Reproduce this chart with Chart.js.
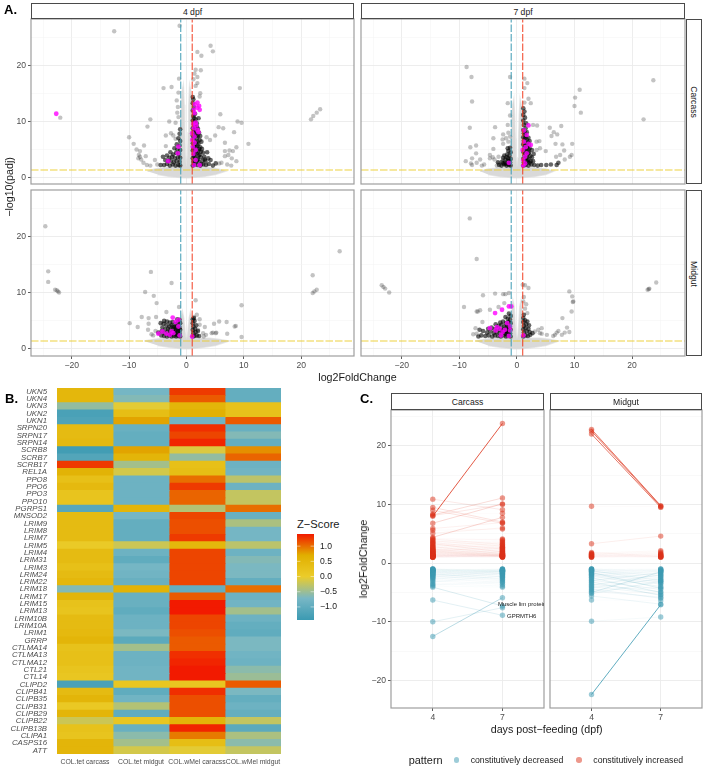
<!DOCTYPE html>
<html>
<head>
<meta charset="utf-8">
<title>Volcano plots, heatmap and fold change</title>
<script src="https://cdn.jsdelivr.net/npm/chart.js@4"></script>
<style>
  html, body { margin: 0; padding: 0; background: #fff; }
  #page { position: relative; width: 703px; height: 767px; overflow: hidden; font-family: "Liberation Sans", sans-serif; }
  #page canvas { position: absolute; }
  .txt { position: absolute; white-space: nowrap; transform-origin: center; }
  .strip { position: absolute; box-sizing: border-box; border: 1px solid #4a4a4a; background: #fff; }
  .dot { position: absolute; width: 5.4px; height: 5.4px; border-radius: 50%; }
</style>
</head>
<body>
<div id="page"></div>
<script>
// ---------- panel A: points read as [log2FoldChange, -log10(padj)] ----------
const grey4Carcass = [[-12.6,26.2],[-1.2,27.2],[4.2,23.6],[4.6,22.6],[1.9,22.5],[2.6,21.8],[1.6,19.3],[2.5,19.2],[1.4,18.6],[1.9,18],[-1.3,17.7],[1.9,16.9],[1.2,17.6],[1.6,16.4],[-4,16],[-2.6,16.2],[9.3,16],[-1.4,15.2],[2.4,15.1],[2.3,14.5],[-1.7,13.8],[-1.5,12.6],[-1.6,11.6],[5.9,11.3],[-22,10.7],[21.7,10.4],[22.1,11],[22.7,11.6],[23.3,12.2],[-6.3,10.4],[-6.8,9.1],[-3,10],[-1.9,9.8],[-1.4,10.8],[5.6,9],[6.4,8.8],[8.9,10],[9.6,9.8],[8.3,8.1],[5,7.5],[3.5,7.2],[4.1,6.7],[-10,7.2],[-3.6,7.5],[-2.7,7.9],[-2.3,7.5],[-1.9,6.9],[-9.2,6],[-7.4,5.7],[-8.7,5],[-8.1,4.7],[-8.3,4],[-8.1,3.7],[-8.4,3.4],[-7.1,3.8],[-7.9,3.2],[-7.5,2.6],[-6.9,2.2],[-6.3,2.1],[-5.5,3.1],[-5.1,2.3],[-3.6,5.6],[6.7,6.2],[10.8,6],[8.7,5.4],[8.1,4.7],[6.7,4.7],[7.5,4.8],[6.7,3.8],[7.3,4],[7.9,3.4],[8.7,2.9],[6.1,2.6],[7.1,2.3],[7.8,2.1],[5.7,2.5]];
const dark4Carcass = [[1.1,2.1],[1.4,2.3],[1.9,2.2],[2.4,2.1],[2.9,2.3],[3.4,2.2],[3.9,2.4],[4.6,2.1],[5.1,2.5],[1.2,2.8],[1.7,2.9],[2.2,2.7],[2.8,3],[3.3,2.9],[4.2,3.1],[1.1,3.4],[1.5,3.6],[2,3.3],[2.5,3.6],[3.1,3.7],[3.8,3.4],[1.3,4.1],[1.8,4.3],[2.3,4],[2.9,4.4],[3.6,4.5],[1.1,4.8],[1.6,5],[2.1,4.7],[2.7,5.1],[1.3,5.5],[1.9,5.7],[2.4,5.4],[1.1,6.1],[1.6,6.3],[2.1,6],[2.6,6.4],[1.2,6.8],[1.8,7],[2.3,6.7],[1.1,7.5],[1.5,7.7],[2,7.4],[1.2,8.1],[1.7,8.3],[2.2,8],[1.1,8.8],[1.5,9],[2,8.7],[1.3,9.5],[1.8,9.7],[1.1,10.2],[1.6,10.4],[2.1,10.6],[1.2,11],[1.5,11.4],[1.1,12],[1.3,12.6],[1.1,13.3],[1.2,14],[1.1,14.4],[1.4,2.6],[1.9,3.1],[1.3,3.8],[2.1,3.9],[1.6,4.5],[1.2,5.2],[1.7,5.4],[2.2,5.1],[1.4,5.9],[1.9,6.4],[1.3,7.2],[1.8,7.6],[1.4,8.5],[1.8,9.1],[1.4,10],[1.3,10.7],[2.4,7.4],[2.5,4.6],[3.2,3.2],[2.6,2.4],[-1.1,2.1],[-1.4,2.2],[-1.9,2.1],[-2.4,2.3],[-2.9,2.1],[-3.4,2.4],[-3.9,2.2],[-4.5,2.2],[-1.2,2.8],[-1.7,2.9],[-2.2,2.7],[-2.7,3],[-3.2,2.9],[-3.7,3.1],[-4.1,3.7],[-1.1,3.5],[-1.5,3.6],[-2,3.4],[-2.5,3.7],[-3,3.5],[-3.4,3.9],[-1.3,4.2],[-1.8,4.4],[-2.3,4.1],[-2.8,4.5],[-1.1,4.9],[-1.6,5],[-2.1,5.2],[-1.2,5.7],[-1.7,5.9],[-1.1,6.5],[-1.4,7],[-1.2,7.8],[-1.1,8.6]];
const pink4Carcass = [[-22.7,11.4],[1.9,13.4],[2.2,12.8],[1.4,13.1],[1.9,12.5],[1.3,12.1],[2.3,12.1],[1.4,11.5],[1.2,9.6],[1.6,9.8],[1.7,9.3],[1.3,8.8],[1.9,8.5],[2.1,8.1],[1,7.9],[1.4,7.3],[1,6.7],[1.4,6.2],[1.1,5.5],[1.6,4.9],[1.2,4.2],[1.6,3.1],[1.3,2.2],[2.3,2.2],[-3.2,2.9],[-1.4,5.5],[-1.5,4.3]];
const cloud4Carcass = [[-6.8,1.1],[-5.5,1.5],[-4,1.7],[-3,1.8],[-2,1.9],[-1.3,2.3],[-1.05,4],[-1,8],[-0.9,12],[-0.75,15.5],[-0.55,16.5],[-0.4,13],[-0.3,8],[-0.2,4],[-0.08,2.2],[0,1.8],[0.08,2.2],[0.2,4],[0.3,8],[0.4,13],[0.55,16.5],[0.75,15.5],[0.9,12],[1,8],[1.05,4],[1.3,2.3],[2,1.9],[3,1.8],[4,1.7],[5.5,1.5],[6.8,1.1],[5,0.5],[3,0.15],[1.5,0],[0.5,-0.1],[-0.5,-0.1],[-1.5,0],[-3,0.15],[-5,0.5]];

const grey7Carcass = [[-8.75,19.8],[-7.9,18],[-7.8,13.6],[-1.6,13.3],[-1.2,18],[1.3,17.7],[1.8,16.9],[1.3,16],[2,14.1],[2.4,13.3],[1.3,13.4],[10.9,15.7],[10.1,14.3],[10,12.8],[11.1,11.6],[23.7,17.4],[22,10.4],[-8.2,8.9],[-3.8,9],[-1.6,9.4],[-1.2,11.1],[2.8,9.4],[3.5,9.3],[5.7,8.9],[7.7,9.2],[6.4,8.1],[7,7.7],[6,7.4],[-4.1,7],[-2.4,7.7],[-1.5,8],[-1.9,7],[-2.5,6.8],[-1.2,7.3],[-8.1,5.4],[-7.1,5.7],[-4.1,5.1],[-7.1,4.3],[-2.4,6],[-1.5,6.4],[3.4,6.4],[3.9,6.5],[6.7,6],[7.9,5.9],[9.6,6],[4,5.2],[3.4,4.9],[8.2,4.8],[6.8,3.7],[7.5,4],[8.3,3.2],[9.5,4],[9.2,3.7],[5,4.7],[-7.8,3.4],[-8.9,2.9],[-8,2.5],[-7.8,2.2],[-7,2.6],[-6.4,3.2],[-6.1,2.1],[-5.7,2.3],[-4.7,4],[-4.2,3.6],[-4.7,3.4],[-3.9,3.2],[-3.2,3.7],[-3.2,2.5],[-2.4,3.1],[-3.5,2.1]];
const dark7Carcass = [[1.1,2.1],[1.5,2.2],[2,2.1],[2.5,2.3],[3,2.2],[3.6,2.1],[4.2,2.2],[5.1,2.2],[5.9,2.3],[6.9,2.2],[7.2,2.6],[1.2,2.7],[1.7,2.9],[2.2,2.6],[2.8,2.9],[1.1,3.3],[1.5,3.5],[2,3.2],[2.6,3.6],[1.3,3.9],[1.8,4.1],[2.3,3.8],[2.9,4.2],[1.1,4.6],[1.6,4.8],[2.1,4.5],[2.6,4.9],[1.3,5.3],[1.8,5.5],[2.2,5.2],[1.1,5.9],[1.6,6.1],[2.1,5.8],[1.2,6.6],[1.7,6.8],[2.2,6.5],[1.1,7.2],[1.5,7.4],[2,7.1],[1.2,7.9],[1.7,8.1],[1.1,8.5],[1.5,8.8],[1.2,9.4],[1.6,9.7],[1.1,10.2],[1.4,10.7],[1.1,11.2],[1.3,11.8],[1.1,12.4],[1.4,2.5],[1.9,2.7],[1.3,3.1],[1.8,3.5],[2.4,2.9],[1.4,4.3],[2,4.3],[1.4,5],[2,5],[1.4,5.7],[1.9,6.3],[1.4,7],[1.4,8],[-1.1,2.1],[-1.4,2.2],[-1.8,2.1],[-2.2,2.3],[-2.7,2.1],[-3.1,2.2],[-1.2,2.7],[-1.6,2.9],[-2.1,2.6],[-2.6,2.8],[-1.1,3.3],[-1.5,3.4],[-2,3.2],[-2.4,3.5],[-1.3,3.9],[-1.7,4.1],[-2.2,3.9],[-1.1,4.5],[-1.5,4.7],[-1.2,5.3],[-1.6,5.2],[-1.4,2.5],[-1.9,2.4],[-1.3,3],[-1.8,3.6],[-2.4,2.5],[-3.3,2.7]];
const pink7Carcass = [[2,9.3],[1.2,8.4],[1.7,7.6],[2,6],[1.2,6.4],[1,4.9],[1.7,4.3],[1.4,3.7],[1.1,3.1],[1.4,2.5],[1.1,2.1],[-1.4,2.6],[2.4,5.8],[1.5,5.4]];
const cloud7Carcass = [[-6.4,1.1],[-5,1.5],[-4,1.6],[-3,1.7],[-2,1.8],[-1.3,2.2],[-1.05,3.5],[-1,7],[-0.9,10],[-0.75,13],[-0.55,14],[-0.4,11],[-0.3,7],[-0.2,3.5],[-0.08,2.2],[0,1.8],[0.08,2.2],[0.2,3.5],[0.3,7],[0.4,11],[0.55,14],[0.75,13],[0.9,10],[1,7],[1.05,3.5],[1.3,2.2],[2,1.8],[3,1.7],[4,1.6],[5,1.5],[6.4,1.1],[5,0.5],[3,0.15],[1.5,0],[0.5,-0.1],[-0.5,-0.1],[-1.5,0],[-3,0.15],[-5,0.5]];

const grey4Midgut = [[-24.6,21.9],[-24.1,13.8],[-24.1,11.9],[-22.9,10.5],[-22.6,10.4],[-22.4,10.2],[-22.2,10],[26.7,17.4],[22,13.1],[22,9.9],[22.3,10.2],[22.7,10.5],[-6.2,13.7],[-2.6,11.7],[-7.2,10.1],[-5.7,9.4],[-5.2,8.1],[1.6,8.6],[-1.3,7.4],[9.6,7.7],[-3.5,6.5],[1.8,6],[1.3,5.6],[-7.8,5.6],[-6.6,5.4],[-5.3,5.6],[-9.9,4.5],[-8.5,3.8],[-6.6,4.4],[-6.7,3.3],[5.7,4.8],[4.8,4.4],[7,4.7],[8.6,4],[8.4,3.9],[3.2,3.8],[2.3,5.2],[4.6,2.8],[5.2,2.8],[4.4,2.7],[5.1,2.7],[7.1,2.6],[9.6,2],[2.3,4.2],[2,3.3],[2.9,2.7],[3.4,2.4],[3,2.1],[-6.1,2.5],[-5.8,2.3],[-5.4,3.1]];
const dark4Midgut = [[-1.1,2.1],[-1.4,2.2],[-1.8,2.1],[-2.2,2.2],[-2.6,2.1],[-3,2.3],[-3.4,2.1],[-3.9,2.2],[-4.4,2.3],[-1.2,2.7],[-1.6,2.8],[-2,2.6],[-2.4,2.9],[-2.9,2.7],[-3.3,2.9],[-3.8,2.7],[-4.3,3.1],[-4.9,2.8],[-1.1,3.3],[-1.5,3.4],[-1.9,3.2],[-2.3,3.5],[-2.8,3.3],[-3.2,3.5],[-3.7,3.4],[-4.2,3.7],[-1.3,3.9],[-1.7,4],[-2.1,3.8],[-2.6,4.1],[-3,3.9],[-3.5,4.1],[-4,4.4],[-4.5,4.5],[-1.1,4.5],[-1.5,4.6],[-1.9,4.4],[-2.4,4.7],[-2.9,4.6],[-3.4,4.8],[-3.9,4.9],[-1.2,5.1],[-1.6,5.2],[1.1,2.1],[1.4,2.2],[1.8,2.3],[2.2,2.2],[1.2,2.7],[1.6,2.9],[1.1,3.3],[1.5,3.5],[2,3.1],[1.2,3.9],[1.7,4.1],[1.1,4.5],[1.4,4.9],[1.1,5.2],[1.3,5.4],[-1.3,2.4],[-1.7,2.4],[-2.1,2.9],[-2.5,2.5],[-1.4,3],[-1.8,3.6],[-2.4,3.9],[-1.2,3.6]];
const pink4Midgut = [[-2.4,5.5],[-1.4,5.1],[-1.9,4.7],[-4.9,2.6],[-4.2,3],[-2.6,3],[-2.3,2.7],[-1.4,3.9],[-3.5,2.6],[-1.2,2.3],[1,2.1],[-2.9,2.4]];
const cloud4Midgut = [[-7.4,1.3],[-5.5,1.6],[-4,1.8],[-2.5,1.8],[-1.3,2],[-1.05,2.8],[-1,4],[-0.9,5.4],[-0.7,6.5],[-0.5,5.5],[-0.3,3.5],[-0.15,2],[0,1.6],[0.15,2],[0.3,3.5],[0.5,5.5],[0.7,6.5],[0.9,5.4],[1,4],[1.05,2.8],[1.3,2],[2.5,1.8],[4,1.8],[5.5,1.6],[7.4,1.3],[5,0.5],[3,0.15],[1.5,0],[0.5,-0.1],[-0.5,-0.1],[-1.5,0],[-3,0.15],[-5,0.5]];

const grey7Midgut = [[-8.2,23.3],[-7,16],[-23.5,11.3],[-23.2,11],[-22.9,10.7],[-22.2,10],[24.2,11.8],[23,10.7],[22.7,10.5],[22.9,10.6],[1,11.4],[1.4,11.3],[2,10.8],[-5.9,9.5],[-3.8,9.8],[-2.4,9.7],[-2,9.7],[-1.4,9.9],[-9.2,7.4],[-7,6.6],[-6.8,6.6],[-6.4,6.8],[-4.7,6.9],[9.1,10.2],[9.6,9.3],[9.8,8.4],[9.7,8.3],[9.5,6.6],[7.9,5.4],[8.7,3.7],[9.1,2.9],[8.3,2.8],[7.2,3.1],[6.9,2.8],[6.6,2.4],[7.8,2.4],[6.3,2.2],[4.3,3.6],[3.7,3.3],[3.1,3],[4,2.7],[5.2,2.4],[4.3,2.6],[1.2,9.2],[1.6,7.9],[1.4,7.1],[1.8,6.3],[1.1,8.4],[-3.2,7.4],[-2.2,8.1],[-6,4.7],[-7.2,3.6],[-7,2.6],[-7.6,2.5]];
const dark7Midgut = [[-1.1,2.1],[-1.5,2.2],[-1.9,2.1],[-2.3,2.3],[-2.8,2.1],[-3.3,2.2],[-3.8,2.3],[-4.3,2.1],[-4.9,2.3],[-5.5,2.2],[-6.2,2.3],[-6.7,2.1],[-1.2,2.7],[-1.6,2.9],[-2,2.6],[-2.5,2.9],[-3,2.7],[-3.5,2.9],[-4,2.7],[-4.6,3],[-5.2,2.8],[-5.9,3.1],[-6.5,3.3],[-1.1,3.3],[-1.5,3.5],[-1.9,3.2],[-2.4,3.5],[-2.9,3.3],[-3.4,3.6],[-3.9,3.4],[-4.4,3.7],[-5,3.5],[-1.3,3.9],[-1.7,4.1],[-2.2,3.9],[-2.7,4.2],[-3.2,4],[-3.7,4.3],[-1.1,4.5],[-1.5,4.7],[-1.9,4.5],[-2.4,4.8],[-2.9,4.6],[-1.2,5.1],[-1.6,5.3],[-2,5.6],[-1.1,5.8],[-1.4,6.2],[1.1,2.1],[1.5,2.3],[1.9,2.2],[2.3,2.4],[1.2,2.8],[1.7,3],[2.2,2.9],[2.7,2.7],[1.1,3.4],[1.5,3.6],[2,3.5],[1.2,4],[1.6,4.3],[2.1,4.1],[1.1,4.7],[1.4,5],[1.8,4.8],[1.1,5.4],[1.2,6],[-1.3,2.4],[-1.8,2.5],[-1.4,3.1],[-2,3],[-1.3,3.7],[-1.8,3.8],[-2.5,3.2]];
const pink7Midgut = [[-1.4,7.5],[-1,7.5],[-2.6,6.9],[-3.8,6.3],[-4.7,3.6],[-3.5,3.8],[-3,3.5],[-1.2,3.9],[-2.1,3.3],[-1.2,3.2],[-3.7,3.2],[-2.8,2.3],[-1.4,2.2],[1.1,2.3],[-2.5,2.9],[-1.7,4.5]];
const cloud7Midgut = [[-7.2,1.3],[-5.5,1.6],[-4,1.8],[-2.5,1.8],[-1.3,2],[-1.05,3],[-1,4.6],[-0.9,6.5],[-0.7,8.5],[-0.5,7.5],[-0.3,4],[-0.15,2.2],[0,1.6],[0.15,2.2],[0.3,4],[0.5,7.5],[0.7,8.5],[0.9,6.5],[1,4.6],[1.05,3],[1.3,2],[2.5,1.8],[4,1.8],[5.5,1.6],[7.2,1.3],[5,0.5],[3,0.15],[1.5,0],[0.5,-0.1],[-0.5,-0.1],[-1.5,0],[-3,0.15],[-5,0.5]];

const volcanoXTicks = [-25, -20, -15, -10, -5, 0, 5, 10, 15, 20, 25];
const volcanoYTicks = [0, 5, 10, 15, 20, 25];
const foldCutoffs = [-1, 1];
const padjCutoff = 1.3;

// ---------- panel B: z-scores per gene, one array per sample ----------
const heatGenes = ['UKN5','UKN4','UKN3','UKN2','UKN1','SRPN20','SRPN17','SRPN14','SCRB8','SCRB7','SCRB17','REL1A','PPO8','PPO6','PPO3','PPO10','PGRPS1','MNSOD2','LRIM9','LRIM8','LRIM7','LRIM5','LRIM4','LRIM31','LRIM3','LRIM24','LRIM22','LRIM18','LRIM17','LRIM15','LRIM13','LRIM10B','LRIM10A','LRIM1','GRRP','CTLMA14','CTLMA13','CTLMA12','CTL21','CTL14','CLIPD2','CLIPB41','CLIPB35','CLIPB31','CLIPB29','CLIPB22','CLIPB13B','CLIPA1','CASPS16','ATT'];
const heatSamples = ['COL.tet carcass', 'COL.tet midgut', 'COL.wMel caracss', 'COL.wMel midgut'];
const zTetCarcass = [.5,.5,-.55,-1.25,-1.2,.4,.4,.45,-1.35,-1.15,1.25,.6,.3,.45,.2,.2,-1.1,.4,.4,.4,.4,.05,.4,.4,.3,.4,.5,-.65,.55,.25,.2,.4,.4,.45,.55,.25,.3,.3,.2,.15,-1.25,.4,.55,.1,.55,-.2,.25,.2,.55,.55];
const zTetMidgut = [-.75,-.65,-.05,.35,.75,-.9,-.95,-.95,.75,.55,-.45,-.15,-.85,-.85,-.85,-.85,.55,-.75,-.95,-.95,-.95,-.2,-.85,-1,-.75,-.8,-.9,.6,-.9,-.9,-1,-.85,-.85,-.7,-1.05,-.45,-.85,-.85,-.8,-.8,.15,-1,-.8,-.35,-1,.15,-.9,-.6,-.45,-.15];
const zWmelCarcass = [1.25,1.1,.55,.65,-.8,1.3,1.2,1.35,-.1,-.55,.3,.35,1,1.25,1.05,1.05,-.35,1.2,1.15,1.15,1.25,.5,1.2,1.2,1.2,1.2,1.2,-.95,1.1,1.4,1.4,1.2,1.2,1.15,1.1,1.1,1.3,1.35,1.4,1.4,.15,1.3,1.15,1.15,1.15,.55,1.35,.95,.35,-.05];
const zWmelMidgut = [-.95,-.95,.25,.25,1.1,-.9,-.65,-.95,.85,1.05,-.85,-.8,-.3,-.85,-.25,-.25,1,-.9,-.4,-.75,-.75,-.3,-.85,-.65,-.7,-.7,-.95,1,-.85,-.8,-.45,-.85,-.95,-1,-.7,-.7,-.8,-.85,-.6,-.5,1.1,-.7,-.95,-.85,-.95,-.25,-1.05,-.4,-.6,-.25];
const zTicks = [1, 0.5, 0, -0.5, -1];

// ---------- panel C: [log2FoldChange at 4 dpf, at 7 dpf] per gene ----------
const dpfTicks = [4, 7];
const foldTicks = [-20, -15, -10, -5, 0, 5, 10, 15, 20, 25];
const carcassIncreased = [[8,23.8],[10.9,9.1],[9.5,7],[9,6.8],[8.4,8.5],[8.1,10],[6.8,10.1],[8.2,11.1],[5.9,6.9],[5.6,5.8],[5.1,6],[4.4,7.8],[4.2,4],[4.1,3.2],[3.9,4.1],[3.8,2.9],[3.6,3.8],[3.5,2.4],[3.4,3.6],[3.3,1.9],[3.1,3.5],[3,2.7],[2.9,3.3],[2.8,1.6],[2.7,3.1],[2.6,2.5],[2.5,2.9],[2.4,1.4],[2.4,2.2],[2.3,2.7],[2.2,1.8],[2.2,2.4],[2.1,1.3],[2.1,2.6],[2,2],[2,1.5],[1.9,2.3],[1.9,1.2],[1.8,1.9],[1.8,1.4],[1.7,2.1],[1.7,1.2],[1.6,1.7],[1.6,1.3],[1.5,1.9],[1.5,1.1],[1.5,1.5],[1.4,1.6],[1.4,1.2],[1.4,1.3],[1.3,1.4],[1.3,1.1],[1.3,1.7],[1.3,1.2],[1.2,1.3],[1.2,1.5],[1.2,1.1],[1.2,1.2],[1.1,1.2],[1.1,1.4],[1.1,1.1],[1.1,1],[1,1.1],[1,1.3],[1,1],[1,1.2]];
const carcassDecreased = [[-12.5,-5.9],[-10,-7.6],[-6.3,-8.9],[-4.1,-7.3],[-3.9,-4.1],[-3.7,-3.2],[-3.5,-3.9],[-3.2,-2.2],[-3,-3.6],[-2.8,-1.7],[-2.6,-3.3],[-2.5,-2.5],[-2.4,-1.4],[-2.3,-3],[-2.2,-1.9],[-2.1,-2.8],[-2,-1.3],[-2,-2.4],[-1.9,-1.6],[-1.9,-2.1],[-1.8,-2.7],[-1.7,-1.2],[-1.7,-1.8],[-1.6,-2.3],[-1.6,-1.4],[-1.5,-1.7],[-1.5,-1.1],[-1.4,-2],[-1.4,-1.3],[-1.3,-1.5],[-1.3,-1.1],[-1.3,-1.8],[-1.2,-1.2],[-1.2,-1.4],[-1.2,-1],[-1.1,-1.3],[-1.1,-1.1],[-1.1,-1.6],[-1,-1.2],[-1,-1],[-1,-1.4]];
const midgutIncreased = [[22.8,9.8],[22.5,9.7],[22,9.5],[9.7,9.6],[3.3,4.6],[1.8,1.2],[1.7,2.1],[1.6,1.5],[1.5,1.9],[1.5,1.1],[1.4,1.4],[1.3,1.7],[1.3,1.1],[1.2,1.3],[1.2,1],[1.1,1.1],[1.1,1.5],[1,1.2],[1,1]];
const midgutDecreased = [[-22.4,-7.1],[-9.9,-9.2],[-6.3,-6.4],[-5.6,-7],[-5.2,-3.1],[-5,-1.5],[-4.8,-5.8],[-4.6,-4.1],[-4.4,-6],[-4.2,-2.7],[-4,-5.3],[-3.8,-2],[-3.6,-4.9],[-3.4,-3.4],[-3.2,-5.5],[-3,-1.6],[-2.9,-4.5],[-2.7,-3],[-2.5,-5],[-2.4,-2.3],[-2.2,-4],[-2.1,-1.4],[-2,-3.6],[-1.9,-2.7],[-1.8,-1.2],[-1.7,-3.3],[-1.6,-4.3],[-1.5,-2],[-1.4,-1.1],[-1.4,-2.5],[-1.3,-3],[-1.2,-1.3],[-1.2,-1.8],[-1.1,-1],[-1.1,-2.2],[-1,-1.2],[-1,-1.5],[-1,-1]];
const noteLabels = ['Muscle lim protein', 'GPRMTH6'];
const noteDpf = [6.81, 7.2];
const noteFold = [-7.1, -9];
const patternNames = ['constitutively decreased', 'constitutively increased'];

// ---------- helpers ----------
const FONT = '"Liberation Sans", sans-serif';
Chart.defaults.font.family = FONT;
Chart.defaults.animation = false;
Chart.defaults.responsive = false;
Chart.defaults.layout.autoPadding = false; // keep panels where they are asked to be
Chart.defaults.plugins.legend.display = false;
Chart.defaults.plugins.tooltip.enabled = false;

const page = document.getElementById('page');

function addCanvas(left, top, w, h) {
  const c = document.createElement('canvas');
  c.width = w;
  c.height = h;
  c.style.left = left + 'px';
  c.style.top = top + 'px';
  page.appendChild(c);
  return c;
}

function addText(str, x, y, size, opts = {}) {
  const d = document.createElement('div');
  d.className = 'txt';
  d.textContent = str;
  d.style.left = x + 'px';
  d.style.top = y + 'px';
  d.style.fontSize = size + 'px';
  d.style.color = opts.color || '#1a1a1a';
  if (opts.bold) d.style.fontWeight = 'bold';
  const ax = opts.left ? '0' : '-50%';
  d.style.transform = 'translate(' + ax + ',-50%) rotate(' + (opts.rot || 0) + 'deg)';
  page.appendChild(d);
}

function addStrip(left, top, right, bottom, label, rot) {
  const s = document.createElement('div');
  s.className = 'strip';
  s.style.left = left + 'px';
  s.style.top = top + 'px';
  s.style.width = (right - left) + 'px';
  s.style.height = (bottom - top) + 'px';
  page.appendChild(s);
  addText(label, (left + right) / 2, (top + bottom) / 2 + 0.5, 8.6, { rot: rot || 0 });
}

// ggplot style panel outline, on top of the marks
const frame = {
  id: 'frame',
  afterDraw(chart) {
    const a = chart.chartArea;
    const ctx = chart.ctx;
    ctx.save();
    ctx.strokeStyle = '#9e9e9e';
    ctx.lineWidth = 1.2;
    ctx.strokeRect(a.left, a.top, a.right - a.left, a.bottom - a.top);
    ctx.restore();
  }
};

const minus = v => String(v).replace('-', '\u2212');

// fixes the axis size and stops the layout reserving room for tick labels
function fixSize(s, w, h) {
  if (w !== null) s.width = w;
  if (h !== null) s.height = h;
  s.paddingLeft = s.paddingRight = s.paddingTop = s.paddingBottom = 0;
}

function gridOpts(showTicks, isMajor) {
  return {
    color: c => (isMajor(c.tick.value) ? '#ebebeb' : '#f3f3f3'),
    lineWidth: c => (isMajor(c.tick.value) ? 0.9 : 0.5),
    drawTicks: showTicks,
    tickLength: 3,
    tickColor: c => (isMajor(c.tick.value) ? '#333' : 'rgba(0,0,0,0)'),
    tickWidth: 0.8
  };
}

function asPoints(pairs) {
  return pairs.map(p => ({ x: p[0], y: p[1] }));
}

function cutoffLine(points, color) {
  return {
    type: 'line', data: points, borderColor: color, borderWidth: 1.1,
    borderDash: [7.5, 2], pointRadius: 0, showLine: true, fill: false
  };
}

function volcano(box, yRange, showX, showY, grey, dark, pink, cloud) {
  const yW = showY ? 31 : 0;
  const xH = showX ? 16 : 0;
  const pad = 2;
  const canvas = addCanvas(box.l - yW - (showY ? 0 : pad), box.t - pad, box.r - box.l + yW + (showY ? 0 : pad) + pad, box.b - box.t + 2 * pad + xH - (showX ? pad : 0));
  new Chart(canvas, {
    type: 'scatter',
    data: {
      datasets: [
        cutoffLine([{ x: foldCutoffs[0], y: yRange[0] }, { x: foldCutoffs[0], y: yRange[1] }], 'rgba(59,154,178,0.9)'),
        cutoffLine([{ x: foldCutoffs[1], y: yRange[0] }, { x: foldCutoffs[1], y: yRange[1] }], 'rgba(242,50,20,0.85)'),
        cutoffLine([{ x: -27.1, y: padjCutoff }, { x: 29.2, y: padjCutoff }], 'rgba(235,204,42,0.9)'),
        { data: asPoints(pink), backgroundColor: 'rgba(255,0,255,0.8)', borderWidth: 0, pointRadius: 2.4 },
        { data: asPoints(dark), backgroundColor: 'rgba(0,0,0,0.6)', borderWidth: 0, pointRadius: 2.3 },
        { data: asPoints(grey), backgroundColor: 'rgba(40,40,40,0.28)', borderWidth: 0, pointRadius: 2.2 },
        {
          type: 'line', data: asPoints(cloud), showLine: true, fill: 'shape', tension: 0,
          backgroundColor: '#d9d9d9', borderColor: 'rgba(217,217,217,0.6)', borderWidth: 1.5, pointRadius: 0
        }
      ]
    },
    options: {
      layout: { padding: { top: pad, bottom: showX ? 0 : pad, right: pad, left: showY ? 0 : pad } },
      scales: {
        x: {
          type: 'linear', min: -27.1, max: 29.2,
          afterBuildTicks: s => { s.ticks = volcanoXTicks.map(v => ({ value: v })); },
          afterFit: s => fixSize(s, null, xH),
          border: { display: false },
          grid: gridOpts(showX, v => v % 10 === 0),
          ticks: {
            display: showX, autoSkip: false, maxRotation: 0, color: '#4d4d4d', padding: 1,
            font: { size: 8.6 }, callback: v => (v % 10 === 0 ? minus(v) : '')
          }
        },
        y: {
          type: 'linear', min: yRange[0], max: yRange[1],
          afterBuildTicks: s => { s.ticks = volcanoYTicks.map(v => ({ value: v })); },
          afterFit: s => fixSize(s, yW, null),
          border: { display: false },
          grid: gridOpts(showY, v => v % 10 === 0),
          ticks: {
            display: showY, autoSkip: false, color: '#4d4d4d', padding: 2,
            font: { size: 8.6 }, callback: v => (v % 10 === 0 ? String(v) : '')
          }
        }
      }
    },
    plugins: [frame]
  });
}

// ---------- panel A ----------
const rowTop = { t: 19, b: 184 };
const rowBottom = { t: 190, b: 356 };
const colLeft = { l: 31, r: 354 };
const colRight = { l: 361, r: 685 };
const yTopRange = [-1.2, 28.4];
const yBottomRange = [-1.4, 28.4];

volcano({ ...colLeft, ...rowTop }, yTopRange, false, true, grey4Carcass, dark4Carcass, pink4Carcass, cloud4Carcass);
volcano({ ...colRight, ...rowTop }, yTopRange, false, false, grey7Carcass, dark7Carcass, pink7Carcass, cloud7Carcass);
volcano({ ...colLeft, ...rowBottom }, yBottomRange, true, true, grey4Midgut, dark4Midgut, pink4Midgut, cloud4Midgut);
volcano({ ...colRight, ...rowBottom }, yBottomRange, true, false, grey7Midgut, dark7Midgut, pink7Midgut, cloud7Midgut);

addStrip(31, 3, 354, 19, '4 dpf');
addStrip(361, 3, 685, 19, '7 dpf');
addStrip(686, 19, 702, 184, 'Carcass', 90);
addStrip(686, 190, 702, 356, 'Midgut', 90);
addText('\u2212log10(padj)', 9, 187, 10.7, { rot: -90 });
addText('log2FoldChange', 357.5, 377, 10.7);

// ---------- panel B ----------
const zStops = [-1.43, -0.72, 0, 0.7, 1.4];
const zColors = [[59, 154, 178], [120, 183, 197], [235, 204, 42], [225, 175, 0], [242, 26, 0]];

function zColor(z) {
  let i = 0;
  while (i < zStops.length - 2 && z > zStops[i + 1]) i++;
  const t = Math.min(1, Math.max(0, (z - zStops[i]) / (zStops[i + 1] - zStops[i])));
  const c = zColors[i].map((v, k) => Math.round(v + (zColors[i + 1][k] - v) * t));
  return 'rgb(' + c.join(',') + ')';
}

const heatColumns = [zTetCarcass, zTetMidgut, zWmelCarcass, zWmelMidgut];

new Chart(addCanvas(0, 384, 285, 383), {
  type: 'bar',
  data: {
    labels: heatGenes,
    datasets: heatColumns.map((col, i) => ({
      data: col.map(() => [i, i + 1]),
      backgroundColor: col.map(zColor),
      borderWidth: 0,
      inflateAmount: 0.4,
      grouped: false,
      barPercentage: 1,
      categoryPercentage: 1
    }))
  },
  options: {
    indexAxis: 'y',
    layout: { padding: { top: 4, right: 4 } },
    scales: {
      x: {
        type: 'linear', min: 0, max: 4,
        afterBuildTicks: s => { s.ticks = heatSamples.map((n, i) => ({ value: i + 0.5 })); },
        afterFit: s => fixSize(s, null, 13),
        border: { display: false },
        grid: { display: false, drawTicks: false },
        ticks: {
          autoSkip: false, maxRotation: 0, minRotation: 0, color: '#4d4d4d', padding: 4,
          font: { size: 6.85 }, callback: v => heatSamples[Math.floor(v)]
        }
      },
      y: {
        type: 'category',
        afterFit: s => fixSize(s, 57, null),
        border: { display: false },
        grid: { display: false, drawTicks: false },
        ticks: {
          autoSkip: false, color: '#4d4d4d', padding: 10,
          font: { size: 7.8, style: 'italic' }
        }
      }
    }
  }
});

// colour bar for the z-scores, white ticks on both edges as in ggplot
const barTicks = {
  id: 'barTicks',
  afterDatasetsDraw(chart) {
    const a = chart.chartArea;
    const ctx = chart.ctx;
    ctx.save();
    ctx.strokeStyle = 'rgba(255,255,255,0.8)';
    ctx.lineWidth = 0.6;
    zTicks.forEach(v => {
      const y = chart.scales.y.getPixelForValue(v);
      ctx.beginPath();
      ctx.moveTo(a.left, y); ctx.lineTo(a.left + 3.4, y);
      ctx.moveTo(a.right - 3.4, y); ctx.lineTo(a.right, y);
      ctx.stroke();
    });
    ctx.restore();
  }
};

new Chart(addCanvas(297, 532, 48, 90), {
  type: 'bar',
  data: {
    labels: ['Z-Score'],
    datasets: [{
      data: [[-1.43, 1.4]],
      borderWidth: 0,
      barPercentage: 1,
      categoryPercentage: 1,
      backgroundColor: c => {
        const a = c.chart.chartArea;
        if (!a) return '#EBCC2A';
        const g = c.chart.ctx.createLinearGradient(0, a.bottom, 0, a.top);
        zStops.forEach((z, i) => g.addColorStop((z - zStops[0]) / (zStops[4] - zStops[0]), zColor(z)));
        return g;
      }
    }]
  },
  options: {
    layout: { padding: { top: 2, bottom: 2 } },
    scales: {
      x: { display: false },
      y: {
        position: 'right', min: -1.43, max: 1.4,
        afterBuildTicks: s => { s.ticks = zTicks.map(v => ({ value: v })); },
        afterFit: s => fixSize(s, 31, null),
        border: { display: false },
        grid: { display: false, drawTicks: false },
        ticks: {
          autoSkip: false, color: '#1a1a1a', padding: 6, font: { size: 8.6 },
          callback: v => minus(v.toFixed(1))
        }
      }
    }
  },
  plugins: [barTicks]
});
addText('Z\u2212Score', 297, 524, 11.2, { left: true });

// ---------- panel C ----------
const noteText = {
  id: 'noteText',
  afterDraw(chart) {
    const a = chart.chartArea;
    const ctx = chart.ctx;
    ctx.save();
    ctx.beginPath();
    ctx.rect(a.left, a.top, a.right - a.left, a.bottom - a.top);
    ctx.clip();
    ctx.font = '6px ' + FONT;
    ctx.fillStyle = '#1a1a1a';
    ctx.textBaseline = 'middle';
    noteLabels.forEach((t, i) => {
      ctx.fillText(t, chart.scales.x.getPixelForValue(noteDpf[i]), chart.scales.y.getPixelForValue(noteFold[i]));
    });
    ctx.restore();
  }
};

function pairLines(pairs, rgb, pointAlpha) {
  return pairs.map(p => {
    // stronger lines for the bigger changes between the two days
    const alpha = Math.min(0.9, 0.015 + Math.abs(p[1] - p[0]) * 0.058);
    return {
      type: 'line',
      data: [{ x: dpfTicks[0], y: p[0] }, { x: dpfTicks[1], y: p[1] }],
      showLine: true,
      borderColor: 'rgba(' + rgb + ',' + alpha + ')',
      borderWidth: 0.9,
      backgroundColor: 'rgba(' + rgb + ',' + pointAlpha + ')',
      pointRadius: 2.7,
      pointBorderWidth: 0
    };
  });
}

function foldPanel(left, right, showY, increased, decreased) {
  const yW = showY ? 30 : 0;
  const pad = showY ? 0 : 1;
  const canvas = addCanvas(left - yW - pad, 408, right - left + yW + pad + 1, 708 - 408 + 16);
  new Chart(canvas, {
    type: 'scatter',
    data: { datasets: pairLines(increased, '220,50,25', 0.5).concat(pairLines(decreased, '59,154,178', 0.5)) },
    options: {
      layout: { padding: { top: 2, right: 1, left: pad } },
      scales: {
        x: {
          type: 'linear', min: 2.2, max: 8.79,
          afterBuildTicks: s => { s.ticks = dpfTicks.map(v => ({ value: v })); },
          afterFit: s => fixSize(s, null, 16),
          border: { display: false },
          grid: gridOpts(true, () => true),
          ticks: { autoSkip: false, maxRotation: 0, color: '#4d4d4d', padding: 1, font: { size: 8.6 }, callback: v => String(v) }
        },
        y: {
          type: 'linear', min: -24.7, max: 26.1,
          afterBuildTicks: s => { s.ticks = foldTicks.map(v => ({ value: v })); },
          afterFit: s => fixSize(s, yW, null),
          border: { display: false },
          grid: gridOpts(showY, v => v % 10 === 0),
          ticks: {
            display: showY, autoSkip: false, color: '#4d4d4d', padding: 2, font: { size: 8.6 },
            callback: v => (v % 10 === 0 ? minus(v) : '')
          }
        }
      }
    },
    plugins: showY ? [frame, noteText] : [frame]
  });
}

foldPanel(391, 544, true, carcassIncreased, carcassDecreased);
foldPanel(550, 702, false, midgutIncreased, midgutDecreased);
addStrip(391, 393, 544, 410, 'Carcass');
addStrip(550, 393, 702, 410, 'Midgut');
addText('log2FoldChange', 363, 559, 10.7, { rot: -90 });
addText('days post\u2212feeding (dpf)', 546.7, 729, 10.7);

// legend under panel C
addText('pattern', 408.7, 760, 10.9, { left: true });
[[456.7, 470.7, 'rgba(59,154,178,0.5)'], [579, 593.3, 'rgba(220,50,25,0.5)']].forEach((k, i) => {
  const dot = document.createElement('div');
  dot.className = 'dot';
  dot.style.left = (k[0] - 2.7) + 'px';
  dot.style.top = (760 - 2.7) + 'px';
  dot.style.background = k[2];
  page.appendChild(dot);
  addText(patternNames[i], k[1], 760, 8.7, { left: true });
});

// panel letters
addText('A.', 4, 9, 13, { left: true, bold: true, color: '#000' });
addText('B.', 5, 398, 13, { left: true, bold: true, color: '#000' });
addText('C.', 360, 398, 13, { left: true, bold: true, color: '#000' });
</script>
</body>
</html>
